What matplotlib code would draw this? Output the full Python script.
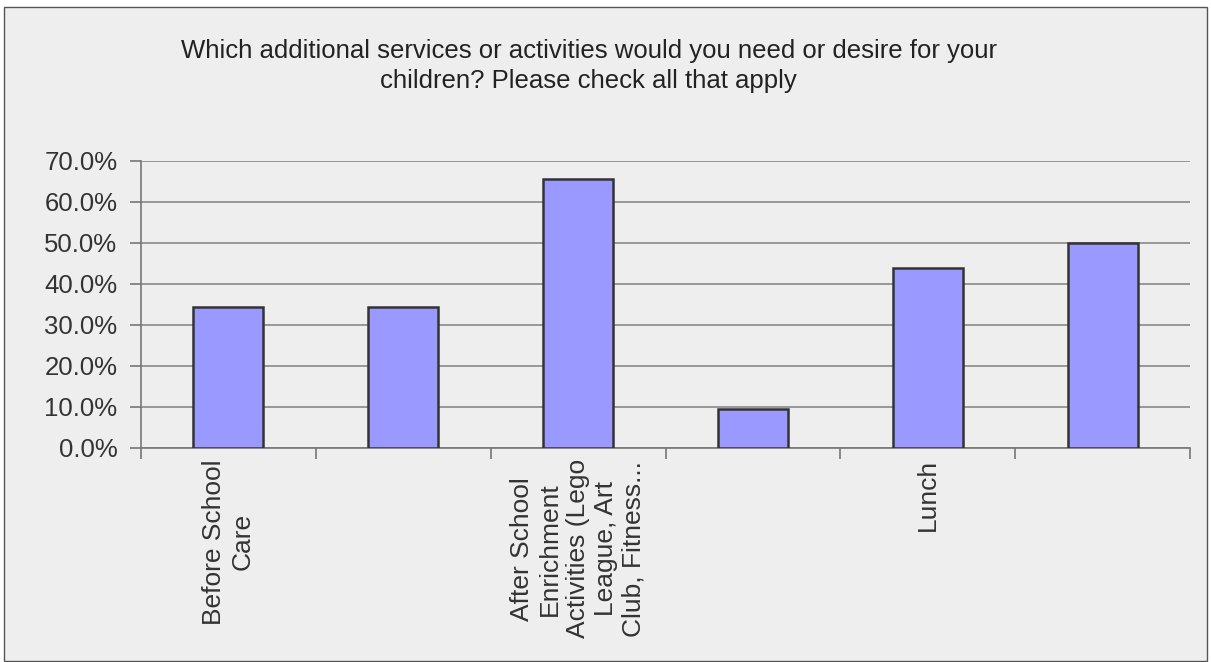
import matplotlib
matplotlib.use("Agg")
import matplotlib.pyplot as plt
from matplotlib.patches import Rectangle
from matplotlib.ticker import FixedLocator, PercentFormatter

title = ("Which additional services or activities would you need or desire for your\n"
         "children? Please check all that apply")
categories = [
    "Before School\nCare",
    "",
    "After School\nEnrichment\nActivities (Lego\nLeague, Art\nClub, Fitness...",
    "",
    "Lunch",
    "",
]
shares = [34.4, 34.4, 65.6, 9.4, 43.8, 50.0]
yticks = [0, 10, 20, 30, 40, 50, 60, 70]

plt.rcParams["font.family"] = ["Liberation Sans", "DejaVu Sans"]

bg = "#eeeeee"
fig = plt.figure(figsize=(12.11, 6.62), dpi=100, facecolor="white")
frame = Rectangle((0.003, 0.002), 0.994, 0.988, transform=fig.transFigure,
                  facecolor=bg, edgecolor="#555555", linewidth=1.0, zorder=-10)
fig.patches.append(frame)

ax = fig.add_axes([0.1164, 0.3233, 0.8663, 0.4335])
ax.patch.set_visible(False)

x = range(len(shares))
ax.bar(x, shares, width=0.4, color="#9999ff", edgecolor="#333333", linewidth=1.8, zorder=3)

ax.set_xlim(-0.5, len(shares) - 0.5)
ax.set_ylim(0, 70)
ax.yaxis.set_major_locator(FixedLocator(yticks))
ax.yaxis.set_major_formatter(PercentFormatter(decimals=1))
ax.grid(axis="y", color="#888888", linewidth=1.2, zorder=0)
ax.set_axisbelow(True)

for side in ("top", "right"):
    ax.spines[side].set_visible(False)
for side in ("left", "bottom"):
    ax.spines[side].set_color("#777777")
    ax.spines[side].set_linewidth(1.2)

ax.tick_params(axis="y", length=8, width=1.2, color="#777777", labelsize=18.5,
               labelcolor="#333333", pad=9)
# tick marks between categories, labels at bar centres
ax.set_xticks([i - 0.5 for i in range(len(shares) + 1)])
ax.set_xticklabels([])
ax.tick_params(axis="x", which="major", length=8, width=1.2, color="#777777")
ax.set_xticks(list(x), minor=True)
ax.set_xticklabels(categories, minor=True, rotation=90, fontsize=19, color="#333333",
                   ha="center", va="top", multialignment="center", linespacing=1.2)
ax.tick_params(axis="x", which="minor", length=0, pad=8)

fig.text(0.486, 0.9, title, ha="center", va="center", fontsize=18.5,
         color="#222222", linespacing=1.3)

fig.savefig("out.png", dpi=100, facecolor="white")
